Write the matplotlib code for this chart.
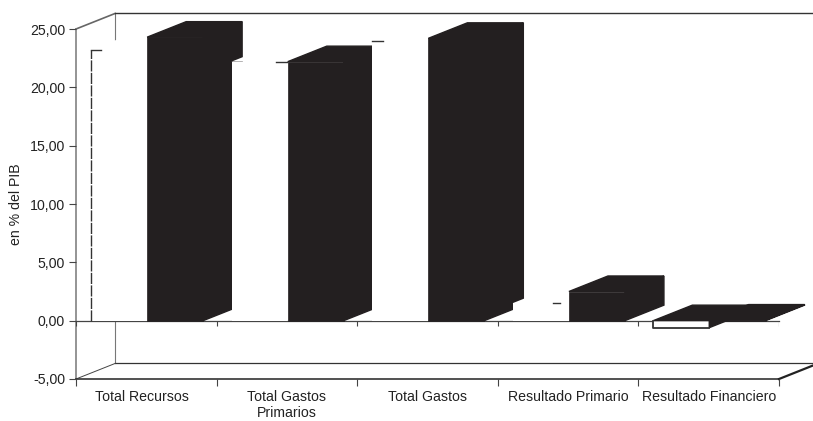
import matplotlib
matplotlib.use("Agg")
import matplotlib.pyplot as plt
import numpy as np

plt.rcParams['font.family'] = ['Liberation Sans', 'DejaVu Sans']

categories = ['Total Recursos', 'Total Gastos\nPrimarios', 'Total Gastos',
              'Resultado Primario', 'Resultado Financiero']
white_values = [23.2, 22.2, 24.0, 1.5, -0.6]
black_values = [24.3, 22.2, 24.2, 2.5, 0.05]
y_ticks = [-5, 0, 5, 10, 15, 20, 25]
y_tick_labels = ['-5,00', '0,00', '5,00', '10,00', '15,00', '20,00', '25,00']
y_label = 'en % del PIB'

DX, DY = 0.2776, 1.33   # depth offset in data units
BAR_W = 0.398
DARK = '#231f20'
TEXT = '#222222'
GREY = '#777777'
LABEL_SHIFT = [-0.03, 0, 0, 0, 0]
EDGE_SPANS = [(0.0, 0.18), (0.8, 1.0), (0.0, 0.2), (0.72, 0.85), None]  # visible bits of worn top edges

W, H = 813, 421
fig = plt.figure(figsize=(W / 100, H / 100), dpi=100, facecolor='white')
ax = fig.add_axes([76 / W, (H - 379) / H, 703 / W, 350 / H])
ax.set_xlim(0, 5)
ax.set_ylim(-5, 25)
ax.patch.set_alpha(0)
for s in ax.spines.values():
    s.set_visible(False)


def box(x, v, face, top, side, z):
    """One pseudo-3D bar: front face, then side and top sealed over it."""
    l, r = x - BAR_W / 2, x + BAR_W / 2
    t = max(v, 0)
    ax.bar(x, v, BAR_W, color=face, edgecolor=face, lw=0.5 if face == DARK else 0,
           zorder=z, clip_on=False)
    ax.fill([r, r + DX, r + DX, r], [0, DY, v + DY, v], color=side,
            lw=1.0 if side == DARK else 0, zorder=z + 0.1, clip_on=False)
    ax.fill([l, l + DX, r + DX, r], [t, t + DY, t + DY, t], color=top,
            lw=1.0 if top == DARK else 0, zorder=z + 0.1, clip_on=False)


# walls and floor
ax.plot([DX, DX], [-5 + DY, 25 + DY], color=GREY, lw=0.8, zorder=1, clip_on=False)
ax.plot([0, DX], [25, 25 + DY], color='#666666', lw=1.2, zorder=1, clip_on=False)
ax.plot([DX, 5 + DX], [25 + DY, 25 + DY], color='#333333', lw=1.0, zorder=1, clip_on=False)
ax.plot([0, 0], [-5, 25], color=GREY, lw=1.1, zorder=1, clip_on=False)
ax.plot([DX, 5 + DX], [-5 + DY, -5 + DY], color='#333333', lw=0.9, zorder=1, clip_on=False)
ax.plot([0, DX], [-5, -5 + DY], color='#444444', lw=0.7, zorder=1, clip_on=False)
ax.plot([0, 5], [-5, -5], color='#333333', lw=1.2, zorder=1, clip_on=False)
ax.plot([5, 5 + DX], [-5, -5 + DY], color='#222222', lw=1.6, zorder=1, clip_on=False)

# bars
for i, (w, b) in enumerate(zip(white_values, black_values)):
    z = 3 + i
    wx, bx = i + 0.305, i + 0.705
    neg = w < 0
    box(wx, w, 'white', DARK if neg else 'white', DARK if neg else 'white', z)
    l, r = wx - BAR_W / 2, wx + BAR_W / 2
    if neg:
        ax.plot([l, l, r], [0, w, w], color='#333333', lw=1.3, zorder=z + 0.2, clip_on=False)
    else:
        s0, s1 = EDGE_SPANS[i]
        ax.plot([l + s0 * BAR_W, l + s1 * BAR_W], [w, w], color='#333333', lw=1.0,
                zorder=z + 0.2, clip_on=False)
    if i == 0:
        ax.plot([l, l], [0, w], color='#333333', lw=1.0, dashes=(8, 1), zorder=z + 0.2, clip_on=False)
    box(bx, b, DARK, DARK, DARK, z + 0.3)

# zero plane line and ticks
ax.plot([0, 5], [0, 0], color='#444444', lw=0.9, zorder=2.5, clip_on=False)
ax.vlines(np.arange(6), -0.45, 0, color='#444444', lw=0.8, zorder=2.5)

ax.set_yticks(y_ticks, y_tick_labels, fontsize=10.2, color=TEXT)
ax.set_xticks(np.arange(6), [''] * 6)
ax.set_xticks(np.arange(5) + 0.5 + np.array(LABEL_SHIFT), categories, minor=True,
              fontsize=10.2, color=TEXT, linespacing=1.2)
ax.tick_params(axis='x', which='major', length=5, width=0.8, color='#444444')
ax.tick_params(axis='x', which='minor', length=0, pad=8)
ax.tick_params(axis='y', length=5, width=0.8, color='#444444', pad=3)
fig.text(16 / W, 1 - 204 / H, y_label, rotation=90, ha='center', va='center',
         fontsize=10.2, color=TEXT)

fig.savefig('out.png', dpi=100, facecolor='white')
